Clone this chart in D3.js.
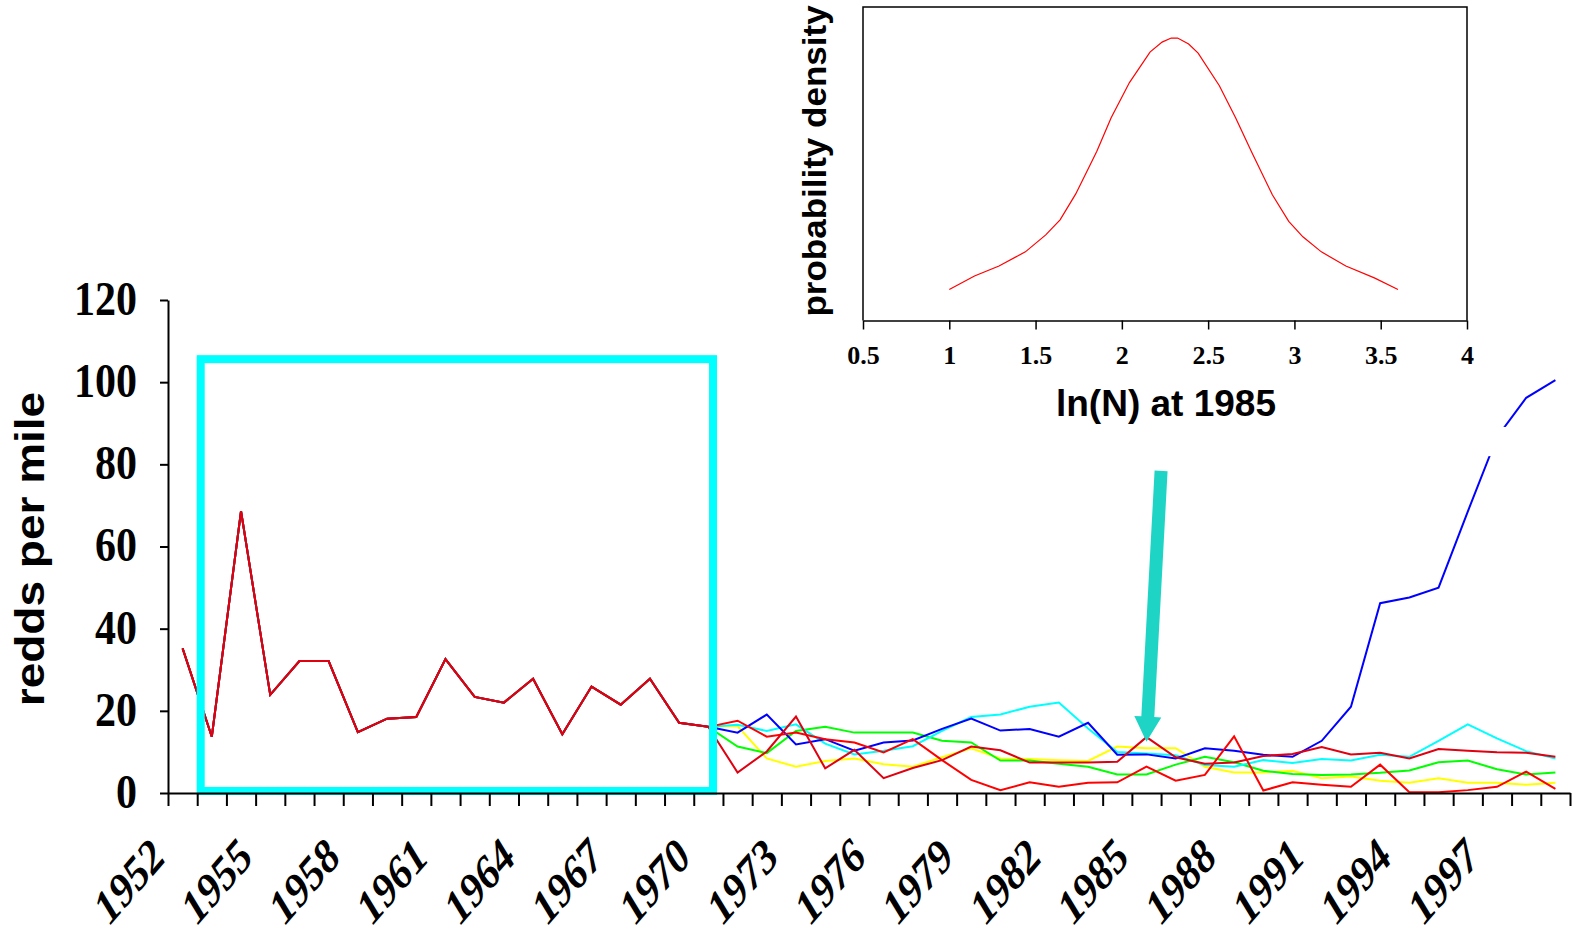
<!DOCTYPE html>
<html>
<head>
<meta charset="utf-8">
<title>redds per mile</title>
<script src="https://cdn.jsdelivr.net/npm/d3@7"></script>
<style>
  body { margin: 0; background: #fff; }
  svg { display: block; }
</style>
</head>
<body>
<svg id="viz"></svg>
<script>
// years on the main chart (one category per year)
var years = d3.range(1952, 2000);
var yearLabels = [1952, 1955, 1958, 1961, 1964, 1967, 1970, 1973, 1976, 1979, 1982, 1985, 1988, 1991, 1994, 1997];
var yTicks = [0, 20, 40, 60, 80, 100, 120];

// observed redds per mile 1952-1970
var pastRedds = [35.2, 13.7, 68.6, 23.9, 32.1, 32.1, 14.8, 18.1, 18.5, 32.6,
                 23.4, 22.0, 27.8, 14.3, 25.9, 21.5, 27.8, 17.1, 16.1];

// simulated trajectories 1971-1999
var yellowRun = [16.3, 8.4, 6.4, 7.8, 8.4, 7.0, 6.4, 8.7, 10.9, 8.4, 8.3, 8.0, 7.8, 11.3, 10.9,
                 10.9, 6.4, 5.0, 5.0, 5.4, 3.6, 4.0, 3.0, 2.5, 3.6, 2.5, 2.5, 2.0, 2.5];
var greenRun = [11.3, 9.7, 15.1, 16.1, 14.7, 14.7, 14.7, 12.7, 12.3, 7.9, 7.9, 7.1, 6.4, 4.5, 4.5,
                6.9, 8.8, 7.5, 5.4, 4.6, 4.4, 4.5, 4.9, 5.5, 7.5, 7.9, 5.8, 4.5, 5.0];
var cyanRun = [16.6, 15.1, 16.7, 12.0, 9.4, 10.3, 11.4, 15.1, 18.5, 19.1, 21.0, 22.0, 15.7, 10.0, 9.6,
               9.2, 6.8, 6.4, 8.0, 7.3, 8.3, 7.9, 9.3, 8.8, 12.7, 16.7, 13.3, 10.2, 8.4];
var blueRun = [14.7, 19.1, 11.8, 13.1, 10.3, 12.3, 12.8, 15.6, 18.1, 15.2, 15.6, 13.7, 17.1, 9.3, 9.4,
               8.4, 10.9, 10.3, 9.3, 8.8, 12.7, 21.0, 46.2, 47.6, 50.0, 68.5, 86.6, 96.2, 100.5];
var redRunA = [17.6, 13.7, 14.7, 13.1, 12.3, 9.9, 13.1, 8.0, 3.2, 0.7, 2.6, 1.5, 2.5, 2.6, 6.4,
               3.0, 4.4, 13.8, 0.6, 2.6, 2.0, 1.5, 6.9, 0.2, 0.2, 0.7, 1.5, 5.2, 1.0];
var redRunB = [5.0, 10.1, 18.6, 6.0, 10.5, 3.6, 6.1, 8.0, 11.3, 10.4, 7.4, 7.4, 7.4, 7.6, 13.6,
               8.7, 7.1, 7.4, 9.0, 9.5, 11.2, 9.4, 9.8, 8.4, 10.7, 10.3, 9.9, 9.8, 8.8];

// inset: probability density of ln(N) at 1985
var lnN = [1.0, 1.146, 1.288, 1.441, 1.559, 1.642, 1.732, 1.808, 1.855, 1.938, 2.044, 2.163, 2.233, 2.286,
           2.323, 2.387, 2.442, 2.565, 2.659, 2.754, 2.872, 2.967, 3.049, 3.156, 3.298, 3.463, 3.6];
var density = [0.099, 0.142, 0.174, 0.219, 0.273, 0.321, 0.403, 0.487, 0.540, 0.647, 0.759, 0.856, 0.888, 0.901,
               0.901, 0.882, 0.853, 0.749, 0.647, 0.535, 0.401, 0.316, 0.267, 0.219, 0.174, 0.136, 0.099];
var insetTicks = [0.5, 1, 1.5, 2, 2.5, 3, 3.5, 4];

var width = 1572, height = 926;
var serif = "'Liberation Serif', 'Times New Roman', serif";
var sans = "'Liberation Sans', Arial, sans-serif";
var stretch = 1.15; // text in the original is drawn a bit taller than wide

var svg = d3.select("#viz").attr("width", width).attr("height", height);

// main scales: each year sits in the middle of its slot
var x = d3.scaleLinear().domain([1951.5, 1999.5]).range([168, 1570]);
var y = d3.scaleLinear().domain([0, 120]).range([793, 300]);

var series = [
    {color: "#ffff00", values: pastRedds.concat(yellowRun)},
    {color: "#00ff00", values: pastRedds.concat(greenRun)},
    {color: "#00ffff", values: pastRedds.concat(cyanRun)},
    {color: "#0000ff", values: pastRedds.concat(blueRun)},
    {color: "#ff0000", values: pastRedds.concat(redRunA)},
    {color: "#e00010", values: pastRedds.concat(redRunB)}
];

var line = d3.line()
    .x(function(d, i) { return x(years[i]); })
    .y(function(d) { return y(d); });

svg.append("g").selectAll("path")
    .data(series)
    .enter()
    .append("path")
    .attr("d", function(d) { return line(d.values); })
    .attr("fill", "none")
    .attr("stroke", function(d) { return d.color; })
    .attr("stroke-width", 2)
    .attr("stroke-linejoin", "miter");

// white break in the blue line near 1997
svg.append("rect")
    .attr("x", x(1996.69)).attr("y", y(89.1))
    .attr("width", x(1997.34) - x(1996.69)).attr("height", y(82) - y(89.1))
    .attr("fill", "#fff");

// highlight box over the historic years
svg.append("rect")
    .attr("x", x(1952.62)).attr("y", y(105.6))
    .attr("width", x(1970.16) - x(1952.62)).attr("height", y(0.5) - y(105.6))
    .attr("fill", "none")
    .attr("stroke", "#00ffff")
    .attr("stroke-width", 8);

// x axis: ticks between the years
var xAxis = d3.axisBottom(x)
    .tickValues(years.concat([2000]).map(function(d) { return d - 0.5; }))
    .tickFormat("")
    .tickSize(13)
    .tickSizeOuter(0);
var gx = svg.append("g").attr("transform", "translate(0," + y(0) + ")").call(xAxis);
gx.selectAll("path, line").attr("stroke", "#000").attr("stroke-width", 2);

svg.append("g").selectAll("text")
    .data(yearLabels)
    .enter()
    .append("text")
    .attr("transform", function(d) {
        return "translate(" + (x(d) - 15) + ",859) scale(1," + stretch + ") rotate(-45)";
    })
    .attr("text-anchor", "end")
    .style("font-family", serif)
    .style("font-weight", "bold")
    .style("font-style", "italic")
    .style("font-size", "41px")
    .text(function(d) { return d; });

// y axis
var yAxis = d3.axisLeft(y).tickValues(yTicks).tickSize(8).tickPadding(23).tickSizeOuter(0);
var gy = svg.append("g").attr("transform", "translate(168,0)").call(yAxis);
gy.selectAll("path, line").attr("stroke", "#000").attr("stroke-width", 2);
gy.selectAll("text")
    .attr("transform", "scale(1," + stretch + ")")
    .attr("dy", "0.3em")
    .style("font-family", serif)
    .style("font-weight", "bold")
    .style("font-size", "42px")
    .attr("fill", "#000");

svg.append("text")
    .attr("transform", "translate(44,549) scale(1," + stretch + ") rotate(-90)")
    .attr("text-anchor", "middle")
    .style("font-family", sans)
    .style("font-weight", "bold")
    .style("font-size", "40px")
    .text("redds per mile");

// arrow pointing at 1985
var tail = [x(1985.5), y(78.4)], tip = [x(1985), y(12.5)];
var dx = tip[0] - tail[0], dy = tip[1] - tail[1];
var len = Math.sqrt(dx * dx + dy * dy);
var ux = dx / len, uy = dy / len, nx = -uy, ny = ux;
var shaftW = 6.5, headW = 13.5, headL = 25;
var baseX = tip[0] - ux * headL, baseY = tip[1] - uy * headL;
var arrowPts = [
    [tail[0] + nx * shaftW, tail[1] + ny * shaftW],
    [baseX + nx * shaftW, baseY + ny * shaftW],
    [baseX + nx * headW, baseY + ny * headW],
    tip,
    [baseX - nx * headW, baseY - ny * headW],
    [baseX - nx * shaftW, baseY - ny * shaftW],
    [tail[0] - nx * shaftW, tail[1] - ny * shaftW]
];
svg.append("polygon")
    .attr("points", arrowPts.map(function(p) { return p.join(","); }).join(" "))
    .attr("fill", "#1ed5c5");

// inset density plot
var ix = d3.scaleLinear().domain([0.5, 4]).range([863, 1467]);
var iy = d3.scaleLinear().domain([0, 1]).range([320.5, 7]);

svg.append("path")
    .attr("d", "M" + ix(0.5) + "," + iy(0) + "V" + iy(1) + "H" + ix(4) + "V" + iy(0))
    .attr("fill", "none")
    .attr("stroke", "#000")
    .attr("stroke-width", 1.5);

var densLine = d3.line()
    .x(function(d, i) { return ix(lnN[i]); })
    .y(function(d) { return iy(d); });

svg.append("path")
    .attr("d", densLine(density))
    .attr("fill", "none")
    .attr("stroke", "#ff0000")
    .attr("stroke-width", 1.2);

var ixAxis = d3.axisBottom(ix).tickValues(insetTicks).tickFormat(d3.format("")).tickSize(9).tickPadding(16).tickSizeOuter(0);
var gix = svg.append("g").attr("transform", "translate(0," + iy(0) + ")").call(ixAxis);
gix.selectAll("path, line").attr("stroke", "#000").attr("stroke-width", 1.5);
gix.selectAll("text")
    .style("font-family", serif)
    .style("font-weight", "bold")
    .style("font-size", "26px")
    .attr("fill", "#000");

svg.append("text")
    .attr("x", 1166).attr("y", 416)
    .attr("text-anchor", "middle")
    .style("font-family", sans)
    .style("font-weight", "bold")
    .style("font-size", "37px")
    .text("ln(N) at 1985");

svg.append("text")
    .attr("transform", "translate(826,161) scale(1,1.03) rotate(-90)")
    .attr("text-anchor", "middle")
    .style("font-family", sans)
    .style("font-weight", "bold")
    .style("font-size", "34px")
    .text("probability density");
</script>
</body>
</html>
